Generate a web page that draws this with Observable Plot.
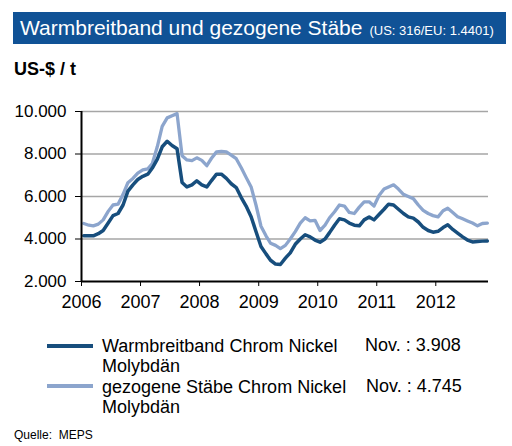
<!DOCTYPE html>
<html>
<head>
<meta charset="utf-8">
<script src="https://cdn.jsdelivr.net/npm/d3@7"></script>
<script src="https://cdn.jsdelivr.net/npm/@observablehq/plot@0.6"></script>
<style>
  body { margin: 0; background: #fff; font-family: "Liberation Sans", Arial, sans-serif; color: #000; }
  #seite { position: relative; width: 512px; height: 446px; overflow: hidden; }
  #titel { position: absolute; left: 13px; top: 12px; width: 486px; height: 32px; padding-left: 7px;
           background: #105296; color: #fff; font-size: 21px; line-height: 32px; white-space: nowrap; }
  #titel span { font-size: 13px; margin-left: 7px; }
  #einheit { position: absolute; left: 14px; top: 59px; font-size: 18px; font-weight: bold; line-height: 20px; }
  #chart { position: absolute; left: 0; top: 95px; }
  .leg { position: absolute; font-size: 18px; line-height: 20px; white-space: nowrap; }
  .swatch { position: absolute; left: 47px; width: 46px; height: 4px; }
  #quelle { position: absolute; left: 14px; top: 428px; font-size: 12px; line-height: 14px; }
</style>
</head>
<body>
<div id="seite">
  <div id="titel">Warmbreitband und gezogene Stäbe<span>(US: 316/EU: 1.4401)</span></div>
  <div id="einheit">US-$ / t</div>
  <div id="chart"></div>
  <div class="swatch" style="top:344px;background:#174e7d"></div>
  <div class="leg" style="left:102px;top:336px">Warmbreitband Chrom Nickel<br>Molybdän</div>
  <div class="leg" style="left:365px;top:335px">Nov. : 3.908</div>
  <div class="swatch" style="top:384px;background:#8ca5cd"></div>
  <div class="leg" style="left:102px;top:377px">gezogene Stäbe Chrom Nickel<br>Molybdän</div>
  <div class="leg" style="left:366px;top:376px">Nov. : 4.745</div>
  <div id="quelle">Quelle:&nbsp; MEPS</div>
</div>
<script>
// Monatswerte Jan 2006 - Nov 2012, US-$/t
const warmbreitband = [
  4150, 4150, 4150, 4250, 4400, 4750, 5100, 5200, 5600, 6250, 6550, 6800,
  6950, 7050, 7340, 7760, 8340, 8600, 8400, 8250, 6660, 6450, 6550, 6740,
  6550, 6450, 6750, 7050, 7050, 6850, 6600, 6420, 5950, 5550, 5050, 4350,
  3650, 3300, 3000, 2820, 2800, 3100, 3350, 3750, 4000, 4200, 4100, 3950,
  3850, 4000, 4300, 4650, 4950, 4900, 4750, 4650, 4620, 4900, 5040, 4900,
  5150, 5400, 5640, 5600, 5400, 5200, 5040, 4980, 4800, 4550, 4400, 4320,
  4360, 4540, 4670, 4450, 4280, 4100, 3950, 3860, 3880, 3900, 3908
]
const staebe = [
  4730, 4650, 4620, 4700, 4900, 5300, 5600, 5640, 6100, 6650, 6850, 7100,
  7250, 7300, 7550, 8350, 9300, 9700, 9800, 9900, 7920, 7720, 7690, 7820,
  7700, 7450, 7800, 8100, 8120, 8100, 7950, 7780, 7350, 6900, 6450, 5600,
  4600, 4150, 3800, 3700, 3550, 3700, 4000, 4350, 4750, 5000, 4850, 4880,
  4400, 4650, 5000, 5280, 5600, 5550, 5250, 5200, 5500, 5750, 5750, 5550,
  6050, 6350, 6450, 6550, 6350, 6100, 6000, 5900, 5600, 5350, 5200, 5100,
  5040, 5330, 5450, 5250, 5050, 4950, 4850, 4750, 4620, 4730, 4745
]
const jahre = [2006, 2007, 2008, 2009, 2010, 2011, 2012]
const yTicks = [2000, 4000, 6000, 8000, 10000]
const gitter = [4000, 6000, 8000, 10000]

const monat = i => new Date(Date.UTC(2006, i, 15))
const daten = [
  ...staebe.map((v, i) => ({datum: monat(i), wert: v, serie: "staebe"})),
  ...warmbreitband.map((v, i) => ({datum: monat(i), wert: v, serie: "warm"}))
]

const de = d3.formatLocale({decimal: ",", thousands: ".", grouping: [3], currency: ["", " €"]})
const fmt = de.format(",")
const start = new Date(Date.UTC(2006, 0, 1))

let chart = Plot.plot({
  width: 512,
  height: 225,
  marginLeft: 81,
  marginRight: 24,
  marginTop: 16,
  marginBottom: 39,
  style: {fontSize: "17px", fontFamily: "Liberation Sans, Arial, sans-serif", color: "#000", background: "transparent"},
  x: {type: "utc", domain: [start, new Date(Date.UTC(2012, 10, 22))]},
  y: {domain: [2000, 10000]},
  marks: [
    Plot.ruleY(gitter, {stroke: "#a6a6a6", strokeWidth: 1.5}),
    Plot.lineY(daten.filter(d => d.serie == "staebe"), {x: "datum", y: "wert", stroke: "#8ca5cd", strokeWidth: 3.3}),
    Plot.lineY(daten.filter(d => d.serie == "warm"), {x: "datum", y: "wert", stroke: "#174e7d", strokeWidth: 3.5}),
    Plot.ruleX([start], {stroke: "#000", strokeWidth: 2}),
    Plot.ruleY([2000], {stroke: "#000", strokeWidth: 2}),
    Plot.axisY(yTicks, {tickSize: 6, tickPadding: 9, tickFormat: fmt, label: null, stroke: "#000"}),
    Plot.axisX(jahre.map(j => new Date(Date.UTC(j, 0, 1))), {tickSize: 5, tickPadding: 9, tickFormat: d3.utcFormat("%Y"), label: null, stroke: "#000", fontSize: "18px"})
  ]
})
d3.select('#chart').append(() => chart)
</script>
</body>
</html>
